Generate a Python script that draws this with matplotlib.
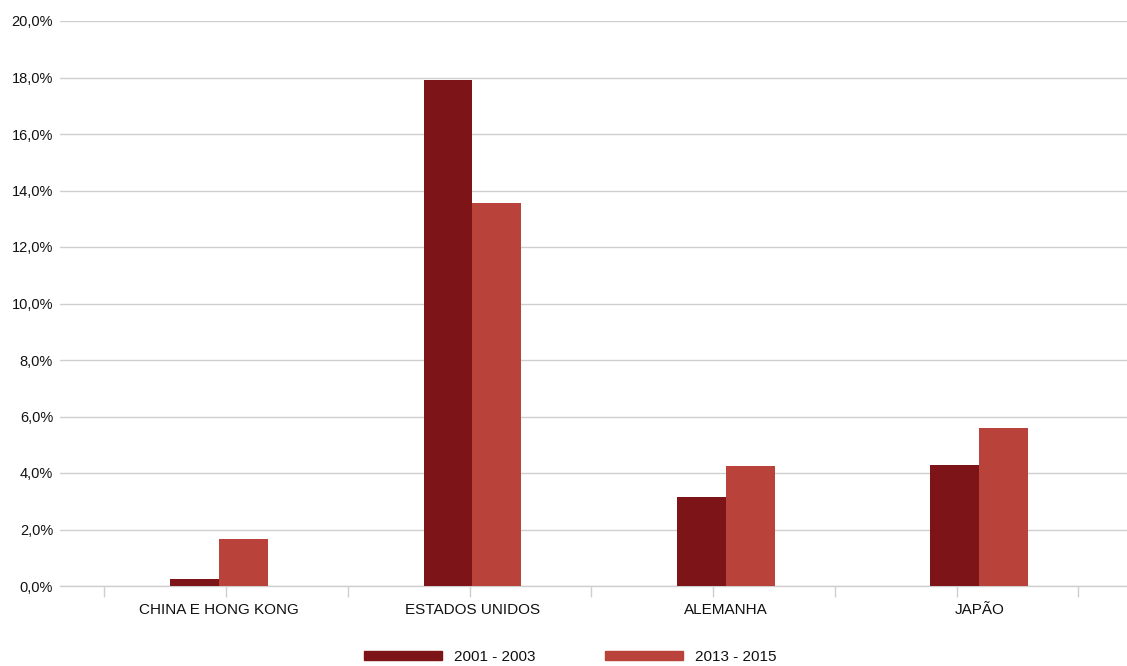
import numpy as np
import matplotlib
matplotlib.use('Agg')
import matplotlib.pyplot as plt
from matplotlib.patches import Patch
from matplotlib.ticker import FuncFormatter, FixedLocator

# data
countries = ['CHINA E HONG KONG', 'ESTADOS UNIDOS', 'ALEMANHA', 'JAPÃO']
share_2001_2003 = [0.25, 17.9, 3.15, 4.3]
share_2013_2015 = [1.65, 13.55, 4.25, 5.6]
series_labels = ['2001 - 2003', '2013 - 2015']

# style
dark_red = '#7c1418'
light_red = '#b9423b'
grid_color = '#cfcfcf'
text_color = '#111111'
plt.rcParams['font.family'] = ['Liberation Sans', 'DejaVu Sans']

fig = plt.figure(figsize=(11.27, 6.66), dpi=100)
ax = fig.add_axes([60 / 1127, 80 / 666, 1067 / 1127, 565 / 666])

x = np.arange(len(countries))
# bars + labels sit on a slightly wider step than the tick marks in the original
bar_step = 1.041
bar_shift = -0.029
width = 0.201
bx = x * bar_step + bar_shift

ax.bar(bx - width / 2, share_2001_2003, width, color=dark_red, zorder=3)
ax.bar(bx + width / 2, share_2013_2015, width, color=light_red, zorder=3)

ax.set_xlim(-0.682, 3.70)
ax.set_ylim(0, 20)
ax.set_yticks(np.arange(0, 20.1, 2))
ax.yaxis.set_major_formatter(FuncFormatter(lambda v, p: f'{v:.1f}%'.replace('.', ',')))
ax.grid(axis='y', color=grid_color, linewidth=1, zorder=0)
ax.set_axisbelow(True)

# category labels under the bars, tick marks on their own half-step grid
ax.xaxis.set_major_locator(FixedLocator(bx))
ax.set_xticklabels(countries)
ax.xaxis.set_minor_locator(FixedLocator(np.arange(-0.5, len(countries), 0.5)))
ax.tick_params(axis='x', which='major', length=0, labelsize=11,
               labelcolor=text_color, pad=12)
ax.tick_params(axis='x', which='minor', length=8, width=1, color=grid_color)
ax.tick_params(axis='y', length=0, labelsize=10.5, labelcolor=text_color, pad=5)

for s in ['top', 'right', 'left']:
    ax.spines[s].set_visible(False)
ax.spines['bottom'].set_color(grid_color)
ax.spines['bottom'].set_linewidth(1)

handles = [Patch(color=dark_red), Patch(color=light_red)]
fig.legend(handles, series_labels, loc='center', bbox_to_anchor=(0.506, 0.0135),
           ncol=2, frameon=False, fontsize=11, handlelength=5.1, handleheight=0.55,
           handletextpad=0.8, columnspacing=4.5, labelcolor=text_color)

plt.savefig('out.png', dpi=100)
